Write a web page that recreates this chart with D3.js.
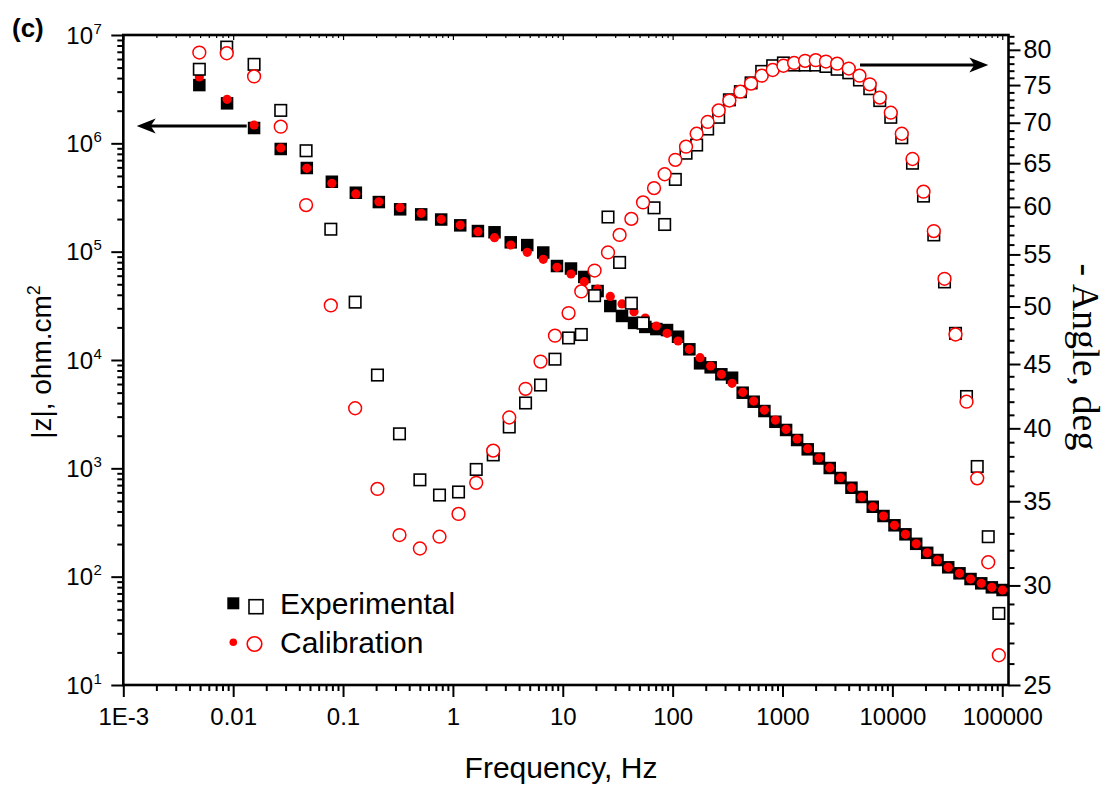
<!DOCTYPE html>
<html><head><meta charset="utf-8">
<script src="https://cdn.jsdelivr.net/npm/d3@7"></script>
<style>
body{margin:0;background:#fff;}
svg{display:block;}
text{fill:#000;}
</style></head><body>
<svg id="c" width="1107" height="787"></svg>
<script>
// ---- data ----
const freqZ = [0.00492,0.0088,0.0155,0.0271,0.0468,0.0791,0.1308,0.2118,0.3311,0.5145,0.7823,1.166,1.689,2.392,3.361,4.75,6.644,8.856,11.88,15.7,20.75,27.07,34.61,44.51,56.41,71.04,88.95,112,142,177.6,221.8,277.6,347.5,434,546.6,684.2,861.7,1078,1358,1696,2145,2691,3368,4241,5264,6628,8299,10450,13160,16474,20747,25752,32230,40840,51440,64390,80420,100600];
const freqPhase = [0.00492,0.00874,0.0155,0.0271,0.0461,0.0774,0.1289,0.2057,0.3264,0.5007,0.7551,1.125,1.63,2.328,3.257,4.584,6.278,8.49,11.29,14.74,19.48,25.8,32.9,42.1,53.8,67.7,84.6,105.8,132.4,165.4,208.3,262.4,328.4,413.6,517.6,646.6,814,1019,1275,1606,2006,2485,3143,4008,5016,6226,7678,9670,12178,15245,19196,23823,29819,37548,47290,59190,74560,93110];
const expZ = [3.45e6,2.34e6,1.385e6,8.87e5,5.92e5,4.42e5,3.50e5,2.87e5,2.46e5,2.21e5,1.98e5,1.75e5,1.55e5,1.51e5,1.22e5,1.15e5,9.82e4,7.37e4,6.99e4,5.84e4,4.33e4,3.15e4,2.55e4,2.20e4,2.02e4,1.93e4,1.89e4,1.64e4,1.255e4,9320,8560,7380,6860,4990,4120,3380,2690,2260,1826,1498,1232,1007,814,662,544,442,363,298,246,201,166,142.5,122,107.4,95.1,86.8,79.7,75.3];
const calZ = [4.10e6,2.55e6,1.476e6,9.06e5,5.88e5,4.28e5,3.41e5,2.89e5,2.55e5,2.26e5,1.99e5,1.76e5,1.53e5,1.345e5,1.152e5,9.86e4,8.50e4,7.17e4,6.22e4,5.28e4,4.52e4,3.86e4,3.29e4,2.79e4,2.44e4,2.06e4,1.764e4,1.497e4,1.255e4,1.05e4,8800,7380,6090,5030,4180,3450,2790,2290,1865,1517,1245,1011,819,662,544,442,363,298,246,201,166,142.5,122,107.4,95.1,86.8,79.7,75.3];
const expPhase = [77.2,80.4,77.9,71.6,66.5,57.6,50.4,44.1,39.6,36.4,35.4,35.6,37.1,38.1,40.1,41.9,43.3,45.4,47.2,47.5,51.0,58.9,54.2,50.3,48.5,59.9,58.1,63.1,66.2,67.2,69.2,70.7,73.0,74.1,75.3,76.9,77.7,78.1,77.8,77.8,77.8,77.6,77.2,76.7,75.7,74.5,72.9,70.7,68.1,65.0,61.2,57.0,52.3,47.6,42.4,37.3,32.8,28.5];
const calPhase = [79.6,79.5,76.2,69.5,60.2,50.1,41.5,35.8,32.9,32.1,32.8,34.2,36.2,38.4,40.8,43.0,45.2,47.4,49.4,51.4,53.4,55.2,57.0,58.7,60.5,62.1,63.7,65.4,67.0,68.6,70.1,71.6,72.9,74.1,75.2,76.3,77.1,77.7,78.1,78.4,78.5,78.3,78.0,77.3,76.3,75.1,73.3,71.3,68.6,65.5,61.7,57.4,52.6,47.5,42.0,36.5,31.3,26.4];
const xTickValues = [1e-3,1e-2,1e-1,1,10,100,1000,1e4,1e5];
const xTickLabels = ["1E-3","0.01","0.1","1","10","100","1000","10000","100000"];
const yLeftExponents = [1,2,3,4,5,6,7];
const yRightTicks = [25,30,35,40,45,50,55,60,65,70,75,80];
const legendLabels = ["Experimental","Calibration"];

const SANS = "'Liberation Sans', Arial, sans-serif";
const SERIF = "'Liberation Serif', 'Times New Roman', serif";

// ---- layout ----
const svg = d3.select("#c").style("font-family",SANS);
svg.append("rect").attr("width",1107).attr("height",787).attr("fill","#fff");
const L=123.3, R=1008.5, T=35, B=685;
const x = d3.scaleLog().domain([1e-3,1.14e5]).range([L,R]);
const yL = d3.scaleLog().domain([10,1e7]).range([B,T]);
const yR = d3.scaleLog().domain([25,82.2]).range([B,T]);

const minorX=[]; for(let e=-3;e<5;e++) for(let m=2;m<10;m++) minorX.push(m*Math.pow(10,e));
const minorY=[]; for(let e=1;e<7;e++) for(let m=2;m<10;m++) minorY.push(m*Math.pow(10,e));
const minorR=d3.range(26,83).filter(v=>v%5!==0);

function fix(g,sw){ g.select(".domain").remove(); g.selectAll(".tick line").attr("stroke","#000").attr("stroke-width",sw); }

// bottom axis
const gb = svg.append("g").attr("transform",`translate(0,${B})`)
  .call(d3.axisBottom(x).tickValues(xTickValues).tickSize(12).tickPadding(11)
    .tickFormat((d,i)=>xTickLabels[i]));
fix(gb,2); gb.selectAll("text").style("font-size","24px").style("font-family",SANS).attr("fill","#000");
const gbm = svg.append("g").attr("transform",`translate(0,${B})`)
  .call(d3.axisBottom(x).tickValues(minorX).tickSize(6).tickFormat(""));
fix(gbm,2);
// top axis (inward small ticks)
const gt = svg.append("g").attr("transform",`translate(0,${T})`)
  .call(d3.axisTop(x).tickValues(xTickValues).tickSize(-5).tickFormat(""));
fix(gt,1.2);
const gtm = svg.append("g").attr("transform",`translate(0,${T})`)
  .call(d3.axisTop(x).tickValues(minorX).tickSize(-3).tickFormat(""));
fix(gtm,1.2);
// left axis
const gl = svg.append("g").attr("transform",`translate(${L},0)`)
  .call(d3.axisLeft(yL).tickValues(yLeftExponents.map(e=>Math.pow(10,e))).tickSize(12).tickFormat(""));
fix(gl,2);
const glm = svg.append("g").attr("transform",`translate(${L},0)`)
  .call(d3.axisLeft(yL).tickValues(minorY).tickSize(6).tickFormat(""));
fix(glm,2);
yLeftExponents.forEach(e=>{
  const yy = yL(Math.pow(10,e));
  svg.append("text").attr("x",93).attr("y",yy+8.6).attr("text-anchor","end").style("font-size","24px").text("10");
  svg.append("text").attr("x",93.5).attr("y",yy-1.5).style("font-size","15px").text(e);
});
// right axis
const gr = svg.append("g").attr("transform",`translate(${R},0)`)
  .call(d3.axisRight(yR).tickValues(yRightTicks).tickSize(12).tickPadding(3).tickFormat(d3.format("d")));
fix(gr,2); gr.selectAll("text").style("font-size","25px").style("font-family",SANS).attr("fill","#000");
const grm = svg.append("g").attr("transform",`translate(${R},0)`)
  .call(d3.axisRight(yR).tickValues(minorR).tickSize(6).tickFormat(""));
fix(grm,2);

// frame
svg.append("rect").attr("x",L).attr("y",T).attr("width",R-L).attr("height",B-T)
  .attr("fill","none").attr("stroke","#000").attr("stroke-width",2.6);

// ---- markers ----
const sq=12.5;
svg.append("g").selectAll("rect").data(expZ).join("rect")
  .attr("x",(d,i)=>x(freqZ[i])-sq/2).attr("y",d=>yL(d)-sq/2).attr("width",sq).attr("height",sq).attr("fill","#000");
svg.append("g").selectAll("circle").data(calZ).join("circle")
  .attr("cx",(d,i)=>x(freqZ[i])).attr("cy",d=>yL(d)).attr("r",4.6).attr("fill","#ff0000");
const osq=11.5;
svg.append("g").selectAll("rect").data(expPhase).join("rect")
  .attr("x",(d,i)=>x(freqPhase[i])-osq/2).attr("y",d=>yR(d)-osq/2).attr("width",osq).attr("height",osq)
  .attr("fill","#fff").attr("stroke","#000").attr("stroke-width",1.6);
svg.append("g").selectAll("circle").data(calPhase).join("circle")
  .attr("cx",(d,i)=>x(freqPhase[i])).attr("cy",d=>yR(d)).attr("r",6.4)
  .attr("fill","#fff").attr("stroke","#ff0000").attr("stroke-width",1.5);

// ---- arrows ----
function arrow(x1,x2,y){
  const dir = Math.sign(x2-x1);
  svg.append("line").attr("x1",x1).attr("x2",x2-dir*6).attr("y1",y).attr("y2",y).attr("stroke","#000").attr("stroke-width",3);
  const p = [[x2,y],[x2-dir*19,y-7.5],[x2-dir*14,y],[x2-dir*19,y+7.5]];
  svg.append("path").attr("d","M"+p.map(q=>q.join(",")).join("L")+"Z").attr("fill","#000");
}
arrow(246.7,136.7,126);
arrow(860,988.3,65);

// ---- legend ----
svg.append("rect").attr("x",233.3-6).attr("y",603.3-6).attr("width",12).attr("height",12).attr("fill","#000");
svg.append("rect").attr("x",256-7).attr("y",606.7-7).attr("width",14).attr("height",14).attr("fill","#fff").attr("stroke","#000").attr("stroke-width",1.6);
svg.append("text").attr("x",280).attr("y",613.5).style("font-size","30px").text(legendLabels[0]);
svg.append("circle").attr("cx",233.3).attr("cy",642.3).attr("r",3.8).attr("fill","#ff0000");
svg.append("circle").attr("cx",254.5).attr("cy",644).attr("r",7.3).attr("fill","#fff").attr("stroke","#ff0000").attr("stroke-width",1.6);
svg.append("text").attr("x",280).attr("y",652.7).style("font-size","30px").text(legendLabels[1]);

// ---- titles ----
svg.append("text").attr("x",12).attr("y",37).style("font-size","26px").style("font-weight","bold").text("(c)");
svg.append("text").attr("x",561).attr("y",778).attr("text-anchor","middle").style("font-size","30px").text("Frequency, Hz");
const lt = svg.append("text").attr("transform","translate(51,362) rotate(-90)").attr("text-anchor","middle").style("font-size","28px");
lt.append("tspan").text("|z|, ohm.cm");
lt.append("tspan").attr("dy",-11).style("font-size","18px").text("2");
svg.append("text").attr("transform","translate(1073,357) rotate(90)").attr("text-anchor","middle")
  .style("font-size","38px").style("font-family",SERIF).text("- Angle, deg");
</script></body></html>
